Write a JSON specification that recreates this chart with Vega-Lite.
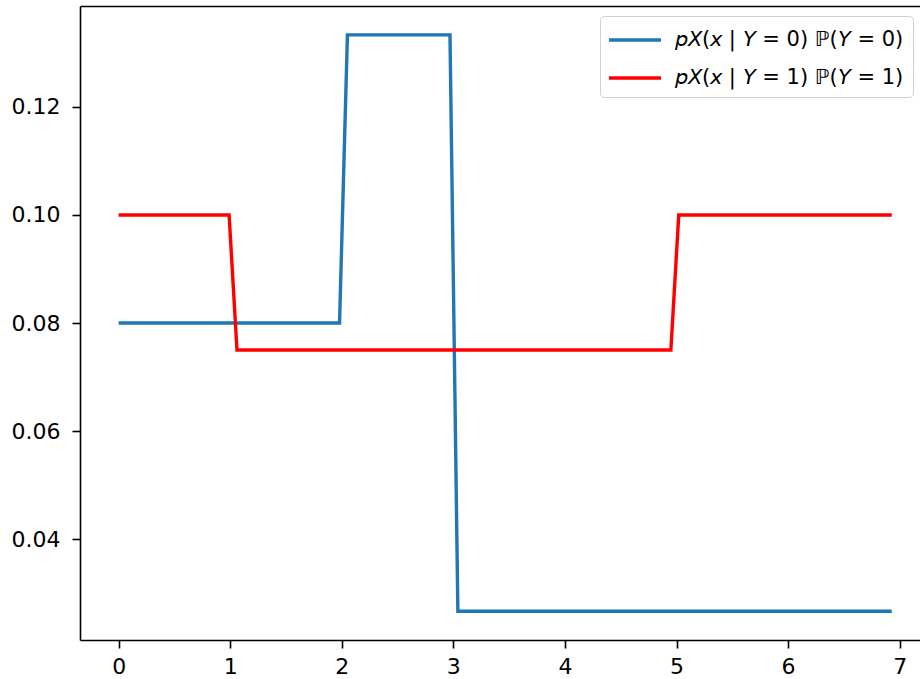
{
  "$schema": "https://vega.github.io/schema/vega-lite/v6.json",
  "width": 840,
  "height": 634,
  "autosize": {"type": "none"},
  "padding": {"left": 80, "top": 6, "right": 0, "bottom": 39},
  "background": "white",
  "config": {
    "view": {"stroke": null},
    "font": "DejaVu Sans",
    "axis": {
      "grid": false,
      "title": null,
      "domainColor": "black",
      "domainWidth": 1.6,
      "tickColor": "black",
      "tickWidth": 1.6,
      "tickSize": 8,
      "labelColor": "black",
      "labelFont": "DejaVu Sans",
      "labelFontSize": 22
    }
  },
  "data": {
    "values": [
      {"series": "𝘱𝘟(𝘹 | 𝘠 = 0) ℙ(𝘠 = 0)", "x": 0, "y": 0.08},
      {"series": "𝘱𝘟(𝘹 | 𝘠 = 0) ℙ(𝘠 = 0)", "x": 1.9798, "y": 0.08},
      {"series": "𝘱𝘟(𝘹 | 𝘠 = 0) ℙ(𝘠 = 0)", "x": 2.0505, "y": 0.13333},
      {"series": "𝘱𝘟(𝘹 | 𝘠 = 0) ℙ(𝘠 = 0)", "x": 2.9697, "y": 0.13333},
      {"series": "𝘱𝘟(𝘹 | 𝘠 = 0) ℙ(𝘠 = 0)", "x": 3.0404, "y": 0.026667},
      {"series": "𝘱𝘟(𝘹 | 𝘠 = 0) ℙ(𝘠 = 0)", "x": 6.9293, "y": 0.026667},
      {"series": "𝘱𝘟(𝘹 | 𝘠 = 1) ℙ(𝘠 = 1)", "x": 0, "y": 0.1},
      {"series": "𝘱𝘟(𝘹 | 𝘠 = 1) ℙ(𝘠 = 1)", "x": 0.9899, "y": 0.1},
      {"series": "𝘱𝘟(𝘹 | 𝘠 = 1) ℙ(𝘠 = 1)", "x": 1.0606, "y": 0.075},
      {"series": "𝘱𝘟(𝘹 | 𝘠 = 1) ℙ(𝘠 = 1)", "x": 4.9495, "y": 0.075},
      {"series": "𝘱𝘟(𝘹 | 𝘠 = 1) ℙ(𝘠 = 1)", "x": 5.0202, "y": 0.1},
      {"series": "𝘱𝘟(𝘹 | 𝘠 = 1) ℙ(𝘠 = 1)", "x": 6.9293, "y": 0.1}
    ]
  },
  "layer": [
    {
      "mark": {"type": "line", "strokeWidth": 3.4, "clip": true},
      "encoding": {
        "x": {
          "field": "x", "type": "quantitative",
          "scale": {"domain": [-0.3465, 7.1825], "nice": false, "zero": false},
          "axis": {"orient": "bottom", "values": [0, 1, 2, 3, 4, 5, 6, 7], "format": "d", "labelPadding": 8}
        },
        "y": {
          "field": "y", "type": "quantitative",
          "scale": {"domain": [0.021333, 0.138667], "nice": false, "zero": false},
          "axis": {"orient": "left", "values": [0.04, 0.06, 0.08, 0.10, 0.12], "format": ".2f", "labelPadding": 12}
        },
        "color": {
          "field": "series", "type": "nominal",
          "scale": {"range": ["#1f77b4", "#ff0000"]},
          "legend": {
            "title": null,
            "orient": "none",
            "legendX": 520,
            "legendY": 10,
            "symbolType": "M-2,0H2",
            "symbolSize": 676,
            "symbolStrokeWidth": 3.4,
            "symbolOffset": 11,
            "labelFont": "DejaVu Sans",
            "labelFontSize": 21,
            "labelColor": "black",
            "labelOffset": 25,
            "rowPadding": 13,
            "padding": 9,
            "strokeColor": "#d0d0d0",
            "fillColor": "rgba(255,255,255,0.8)",
            "cornerRadius": 4,
            "labelLimit": 400
          }
        }
      }
    },
    {
      "mark": {"type": "line", "opacity": 0},
      "encoding": {
        "x": {
          "field": "x", "type": "quantitative",
          "axis": {"orient": "top", "labels": false, "ticks": false}
        },
        "y": {"field": "y", "type": "quantitative"}
      }
    }
  ],
  "resolve": {"axis": {"x": "independent"}}
}
